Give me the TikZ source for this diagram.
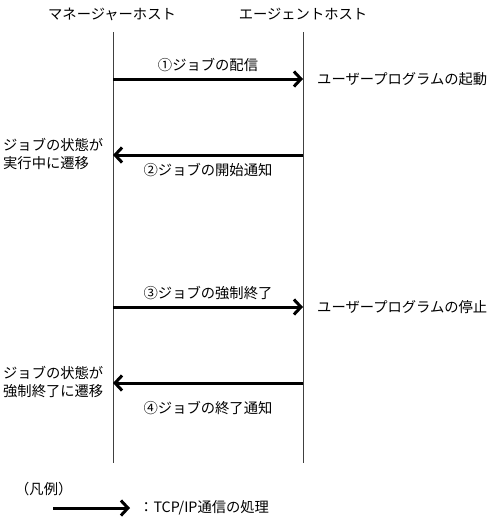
\documentclass[tikz,border=0pt]{standalone}
\usepackage{fontspec}
\setmainfont{Noto Sans CJK JP}
\usetikzlibrary{arrows.meta,positioning}

\begin{document}
\begin{tikzpicture}[
  x=1pt, y=-1pt,
  lbl/.style={font=\fontsize{14.3}{18}\selectfont, inner sep=1pt},
  note/.style={lbl, align=left, anchor=west},
  life/.style={line width=0.8pt, draw=black!75},
  msg/.style={-{Straight Barb[length=7pt,width=15pt,line width=3pt]}, line width=3pt},
]
\useasboundingbox (0,0) rectangle (492,525);

%% host headers
\node[lbl] (mgr) at (112,14) {マネージャーホスト};
\node[lbl] (agt) at (303,14) {エージェントホスト};

%% lifelines
\coordinate (mtop) at (113,32);  \coordinate (mbot) at (113,463);
\coordinate (atop) at (303,32);  \coordinate (abot) at (303,463);
\draw[life] (mtop) -- (mbot);
\draw[life] (atop) -- (abot);

%% message points on the lifelines
\coordinate (m1) at (113,79);   \coordinate (a1) at (303,79);
\coordinate (m2) at (113,155);  \coordinate (a2) at (303,155);
\coordinate (m3) at (113,307);  \coordinate (a3) at (303,307);
\coordinate (m4) at (113,383);  \coordinate (a4) at (303,383);

%% 1: dispatch
\draw[msg] (m1) -- node[lbl, above=5pt] {①ジョブの配信} (a1);
\node[lbl, right=13pt of a1, anchor=west] (start) {ユーザープログラムの起動};

%% 2: start notice
\draw[msg] (a2) -- node[lbl, below=6pt] {②ジョブの開始通知} (m2);
\node[note] (running) at (2,154) {ジョブの状態が\\実行中に遷移};

%% 3: forced end
\draw[msg] (m3) -- node[lbl, above=5pt] {③ジョブの強制終了} (a3);
\node[lbl, right=13pt of a3, anchor=west] (stop) {ユーザープログラムの停止};

%% 4: end notice
\draw[msg] (a4) -- node[lbl, below=16pt] {④ジョブの終了通知} (m4);
\node[note] (killed) at (2,382) {ジョブの状態が\\強制終了に遷移};

%% legend
\node[note] (legend) at (14,489) {（凡例）};
\coordinate (lg0) at (53,508);  \coordinate (lg1) at (130,508);
\draw[msg] (lg0) -- (lg1);
\node[lbl, right=8pt of lg1, anchor=west] (tcp) {：TCP/IP通信の処理};
\end{tikzpicture}
\end{document}
